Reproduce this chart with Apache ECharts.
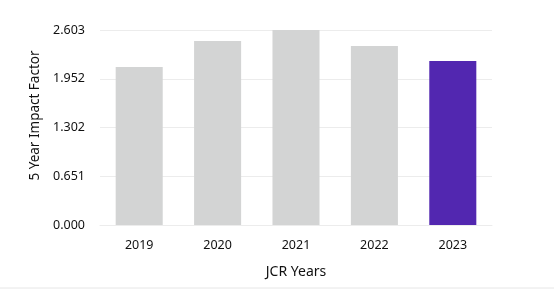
<!DOCTYPE html>
<html><head><meta charset="utf-8">
<script src="https://cdn.jsdelivr.net/npm/echarts@6/dist/echarts.min.js"></script>
<style>html,body{margin:0;padding:0;background:#fff}#c{width:554px;height:289px}</style>
</head><body><div id="c"></div>
<script>
var categories = ['2019','2020','2021','2022','2023'];
var values = [2.109, 2.456, 2.603, 2.389, 2.189];
var barColors = ['#d3d4d4','#d3d4d4','#d3d4d4','#d3d4d4','#5227b0'];
var yTicks = ['0.000','0.651','1.302','1.952','2.603'];
var FONT = 'Noto Sans';
var chart = echarts.init(document.getElementById('c'), null, {renderer:'canvas'});
chart.setOption({
  animation:false,
  grid:{left:100, right:62, top:30, bottom:64},
  graphic:[{type:'line', shape:{x1:0,y1:288,x2:554,y2:288}, style:{stroke:'#e6e6e6', lineWidth:1}}],
  xAxis:{type:'category', data:categories, name:'JCR Years', nameLocation:'middle', nameGap:40,
    nameTextStyle:{fontFamily:FONT, fontSize:14, color:'#111'},
    axisLine:{show:true, lineStyle:{color:'#ececec'}}, axisTick:{show:false},
    axisLabel:{fontFamily:FONT, fontSize:12.5, color:'#111', margin:14}},
  yAxis:{type:'value', min:0, max:2.603, interval:2.603/4,
    name:'5 Year Impact Factor', nameLocation:'middle', nameGap:58,
    nameTextStyle:{fontFamily:FONT, fontSize:13.5, color:'#111', padding:[0,0,0,24]},
    axisLine:{show:false}, axisTick:{show:false},
    splitLine:{lineStyle:{color:'#ececec'}},
    axisLabel:{fontFamily:FONT, fontSize:12.5, color:'#111', margin:15,
      formatter:function(v,i){return yTicks[i];}}},
  series:[{type:'bar', barWidth:'60%',
    data: values.map(function(v,i){return {value:v, itemStyle:{color:barColors[i]}};})}]
});
</script></body></html>
